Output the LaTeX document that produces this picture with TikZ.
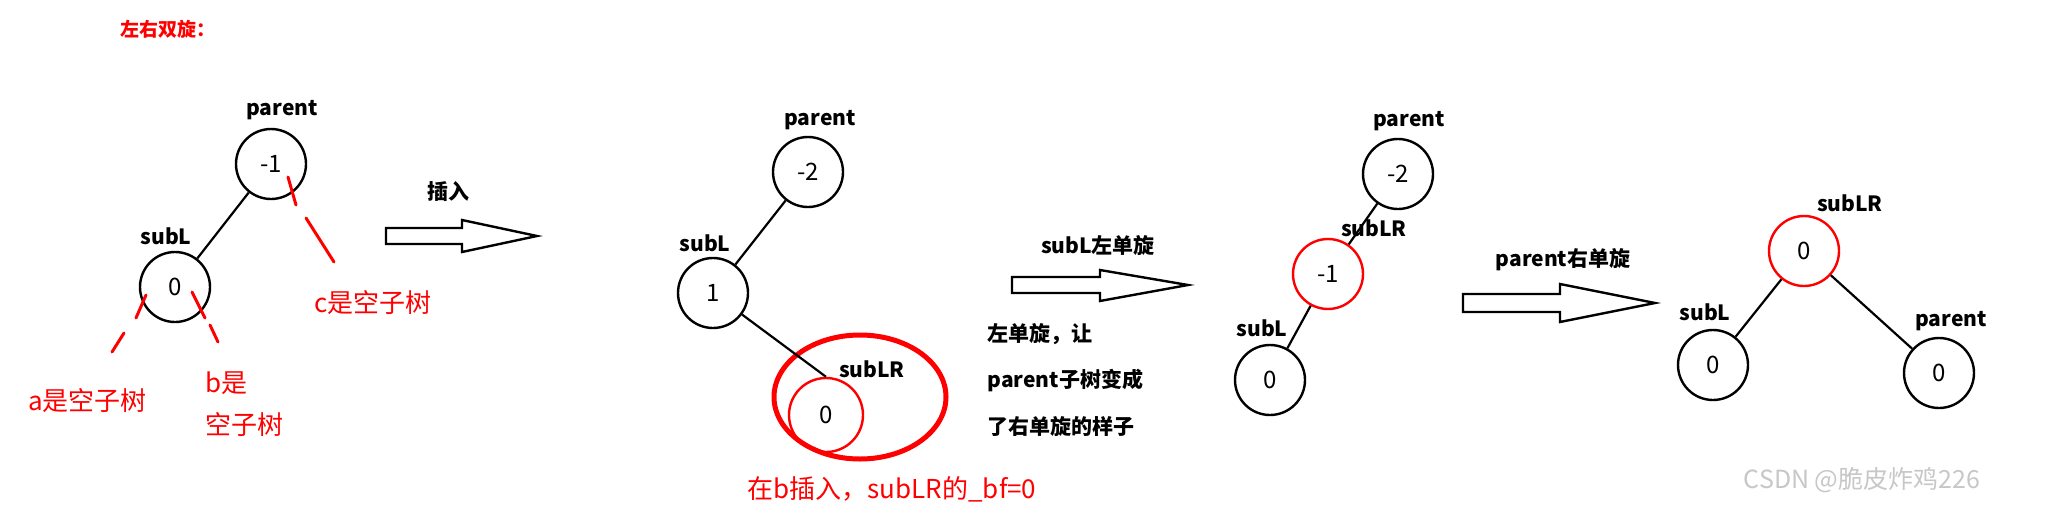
\documentclass[tikz,border=0pt]{standalone}
\usepackage{fontspec}
\setmainfont{Noto Sans CJK SC}
\usetikzlibrary{shapes.geometric}
\begin{document}
\begin{tikzpicture}[x=1pt,y=-1pt,
  tn/.style={circle,draw=black,line width=2.4pt,minimum width=70pt,inner sep=0pt,font=\fontsize{24}{24}\selectfont},
  rn/.style={tn,draw=red},
  lbl/.style={font=\bfseries\fontsize{21}{21}\selectfont},
  rtxt/.style={text=red,font=\fontsize{26}{28}\selectfont,inner sep=0pt},
  edge/.style={line width=2.2pt},
  rdash/.style={red,line width=3pt,line cap=round},
  bigarrow/.style={draw=black,line width=2.4pt,fill=white}]
\useasboundingbox (0,0) rectangle (2057,517);
% title
\node[text=red,font=\bfseries\fontsize{19}{19}\selectfont] (title) at (168,29) {左右双旋：};
% tree 1
\node[tn] (p1) at (271,164) {-1};
\node[lbl] (p1l) at (282,110) {parent};
\node[tn] (s1) at (175,287) {0};
\node[lbl] (s1l) at (166,236) {subL};
\draw[edge] (p1) -- (s1);
\coordinate (c1a) at (288,177); \coordinate (c1b) at (296,205);
\coordinate (c1c) at (306,218); \coordinate (c1d) at (334,262);
\draw[rdash] (c1a) -- (c1b); \draw[rdash] (c1c) -- (c1d);
\coordinate (a1) at (146,295); \coordinate (a2) at (136,318);
\coordinate (a3) at (124,333); \coordinate (a4) at (112,352);
\draw[rdash] (a1) -- (a2); \draw[rdash] (a3) -- (a4);
\coordinate (b1) at (192,292); \coordinate (b2) at (205,318);
\coordinate (b3) at (210,325); \coordinate (b4) at (218,342);
\draw[rdash] (b1) -- (b2); \draw[rdash] (b3) -- (b4);
\node[rtxt,anchor=west] (ct) at (314,303) {c是空子树};
\node[rtxt,anchor=west] (at) at (28,401) {a是空子树};
\node[rtxt,anchor=west] (bt) at (205,383) {b是};
\node[rtxt,anchor=west] (bt2) at (205,425) {空子树};
% arrow 1
\coordinate (ar1) at (386,236);
\draw[bigarrow] (386,228) -- (462,228) -- (462,220) -- (537,236) -- (462,252) -- (462,244) -- (386,244) -- cycle;
\node[lbl] (ins) at (448,192) {插入};
% tree 2
\node[tn] (p2) at (808,172) {-2};
\node[lbl] (p2l) at (820,120) {parent};
\node[tn] (s2) at (713,293) {1};
\node[lbl] (s2l) at (705,243) {subL};
\node[ellipse,draw=red,line width=5pt,minimum width=172pt,minimum height=124pt] (big) at (860,397) {};
\node[rn,minimum width=74pt] (lr2) at (826,415) {0};
\node[lbl] (lr2l) at (872,369) {subLR};
\draw[edge] (p2) -- (s2);
\draw[edge] (s2) -- (lr2.north);
\node[rtxt] (cap) at (892,489) {在b插入，subLR的\_bf=0};
% arrow 2
\draw[bigarrow] (1012,277) -- (1100,277) -- (1100,270) -- (1188,285) -- (1100,301) -- (1100,293) -- (1012,293) -- cycle;
\node[lbl] (al2) at (1098,246) {subL左单旋};
\node[lbl,anchor=west] (t1) at (984,334) {左单旋，让};
\node[lbl,anchor=west] (t2) at (984,381) {parent子树变成};
\node[lbl,anchor=west] (t3) at (984,426) {了右单旋的样子};
% tree 3
\node[tn] (p3) at (1398,174) {-2};
\node[lbl] (p3l) at (1409,121) {parent};
\node[rn] (lr3) at (1328,274) {-1};
\node[lbl] (lr3l) at (1374,228) {subLR};
\node[tn] (s3) at (1270,380) {0};
\node[lbl] (s3l) at (1262,328) {subL};
\draw[edge] (p3) -- (lr3);
\draw[edge] (lr3) -- (s3);
% arrow 3
\draw[bigarrow] (1463,294) -- (1560,294) -- (1560,284) -- (1655,303) -- (1560,322) -- (1560,312) -- (1463,312) -- cycle;
\node[lbl] (al3) at (1563,260) {parent右单旋};
% tree 4
\node[rn] (lr4) at (1804,251) {0};
\node[lbl] (lr4l) at (1850,203) {subLR};
\node[tn] (s4) at (1713,365) {0};
\node[lbl] (s4l) at (1705,312) {subL};
\node[tn] (p4) at (1939,373) {0};
\node[lbl] (p4l) at (1951,321) {parent};
\draw[edge] (lr4) -- (s4);
\draw[edge] (lr4) -- (p4);
% watermark
\node[text=black!22,font=\fontsize{25}{25}\selectfont] (wm) at (1862,480) {CSDN @脆皮炸鸡226};
\end{tikzpicture}
\end{document}
